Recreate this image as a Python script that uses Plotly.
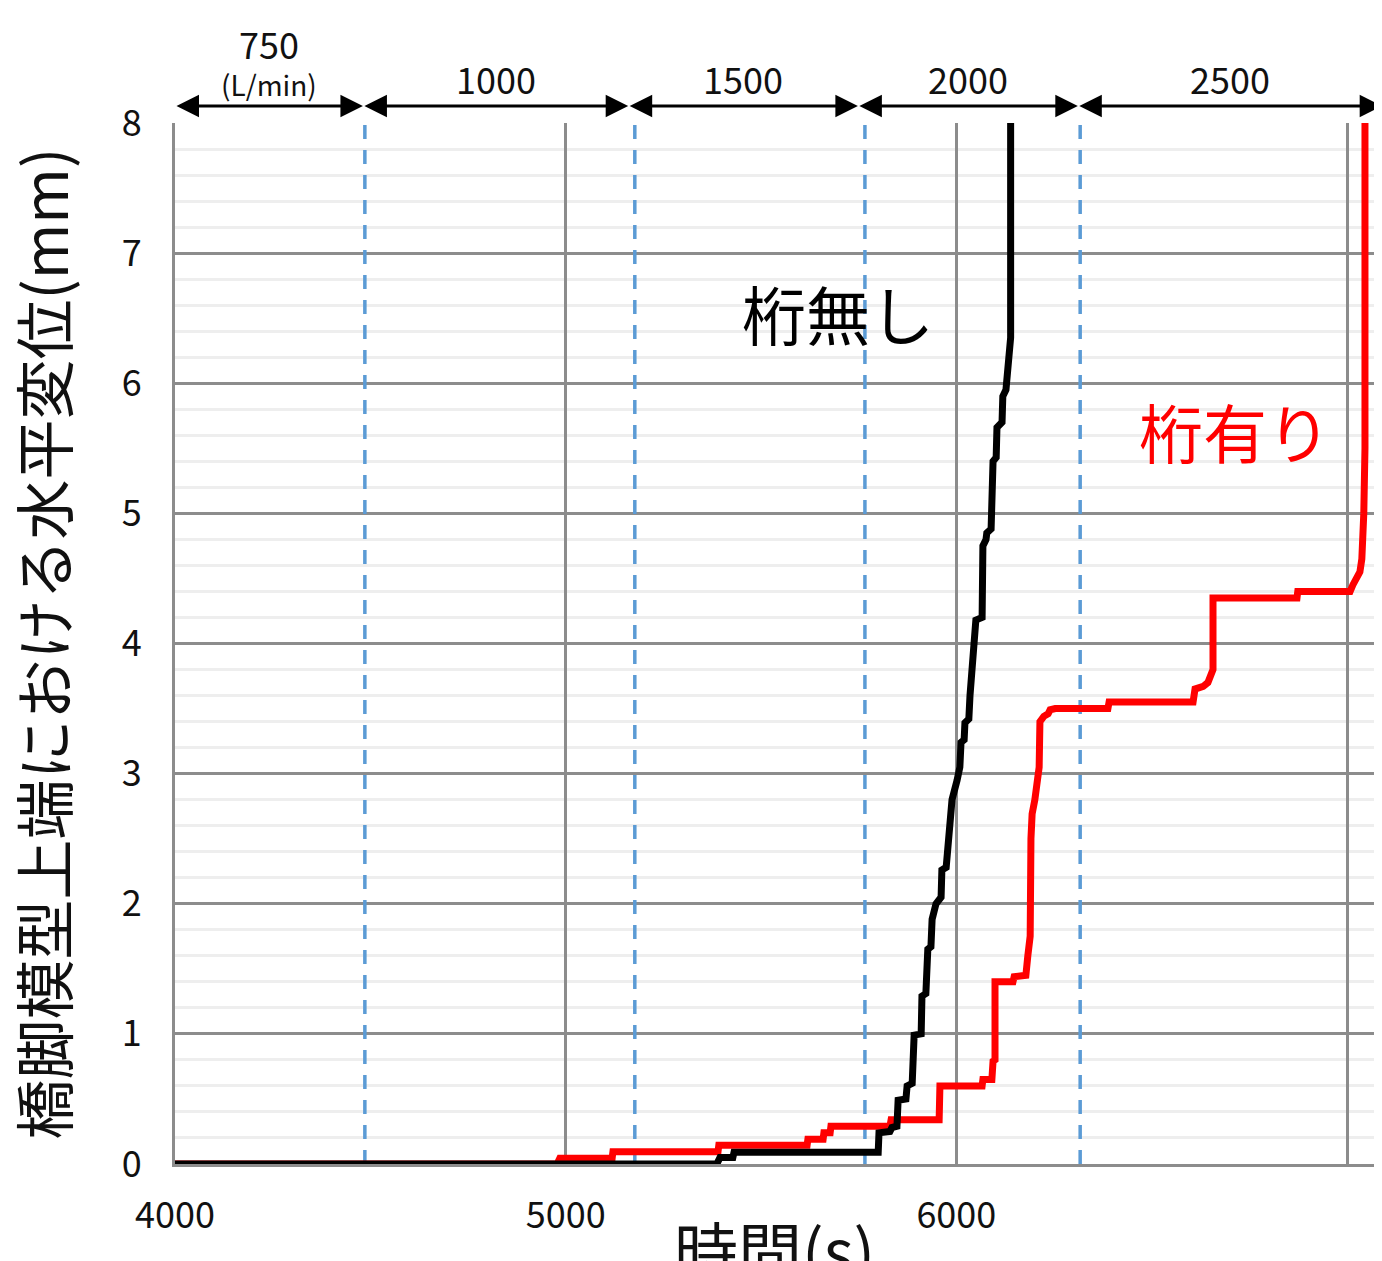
import plotly.graph_objects as go

# ---- data ----
# 桁無し (without girder)
black_t = [4000, 5387, 5395, 5428, 5431, 5800, 5802, 5830, 5835, 5848, 5851, 5871, 5874, 5887, 5892,
           5910, 5912, 5922, 5927, 5935, 5938, 5948, 5961, 5963, 5974, 5989, 6002, 6009, 6012, 6020,
           6022, 6032, 6035, 6043, 6050, 6066, 6068, 6076, 6078, 6089, 6094, 6102, 6104, 6117, 6119,
           6127, 6132, 6137, 6139, 6139]
black_d = [0, 0, 0.05, 0.05, 0.09, 0.09, 0.24, 0.25, 0.28, 0.29, 0.49, 0.5, 0.6, 0.62, 0.99,
           1.0, 1.29, 1.31, 1.65, 1.67, 1.88, 2.0, 2.05, 2.26, 2.28, 2.8, 2.95, 3.05, 3.24, 3.26,
           3.39, 3.42, 3.6, 4.0, 4.18, 4.2, 4.75, 4.8, 4.85, 4.88, 5.40, 5.43, 5.66, 5.7, 5.9,
           5.95, 6.1, 6.25, 6.35, 8.0]

# 桁有り (with girder)
red_t = [4000, 4978, 4985, 5119, 5121, 5390, 5392, 5618, 5620, 5659, 5661, 5677, 5679, 5830, 5833,
         5956, 5958, 6066, 6068, 6091, 6094, 6099, 6099, 6145, 6148, 6178, 6183, 6189, 6191, 6194,
         6201, 6206, 6212, 6214, 6224, 6235, 6240, 6253, 6388, 6391, 6606, 6611, 6632, 6644, 6654,
         6657, 6657, 6872, 6874, 7008, 7015, 7026, 7033, 7038, 7041, 7043, 7046, 7046]
red_d = [0, 0, 0.045, 0.045, 0.095, 0.095, 0.145, 0.145, 0.19, 0.19, 0.24, 0.24, 0.29, 0.29, 0.34,
         0.34, 0.6, 0.6, 0.65, 0.65, 0.79, 0.8, 1.40, 1.40, 1.44, 1.45, 1.6, 1.75, 2.5, 2.69,
         2.8, 2.95, 3.05, 3.40, 3.44, 3.46, 3.49, 3.5, 3.5, 3.55, 3.55, 3.65, 3.67, 3.70, 3.78,
         3.8, 4.35, 4.35, 4.40, 4.40, 4.45, 4.50, 4.55, 4.65, 4.8, 5.0, 5.5, 8.0]

# flow-rate change times (dashed lines) and flow-rate stages
change_t = [4486, 5177, 5766, 6317]
stage_bounds = [4000, 4481, 5160, 5748, 6311, 7090]
stage_labels = ["750", "1000", "1500", "2000", "2500"]

x_ticks = [4000, 5000, 6000, 7000]
y_ticks = [0, 1, 2, 3, 4, 5, 6, 7, 8]

X_RANGE = [4000, 7089.6]
FONT = "Noto Sans CJK JP"
GRID = "#8c8c8c"


def xdom(t):
    return (t - X_RANGE[0]) / (X_RANGE[1] - X_RANGE[0])


fig = go.Figure()
fig.add_trace(go.Scatter(x=red_t, y=red_d, mode="lines", name="桁有り",
                         line=dict(color="#ff0000", width=7)))
fig.add_trace(go.Scatter(x=black_t, y=black_d, mode="lines", name="桁無し",
                         line=dict(color="#000000", width=7)))

for t in change_t:
    fig.add_shape(type="line", xref="x", yref="y", x0=t, x1=t, y0=0, y1=8, layer="between",
                  line=dict(color="#5b9bd5", width=3.5, dash="14px,11px"))

arrow_y = 1.0163
for i, lab in enumerate(stage_labels):
    a, b = stage_bounds[i], stage_bounds[i + 1]
    fig.add_annotation(x=xdom(b), y=arrow_y, ax=xdom(a), ay=arrow_y,
                       xref="x domain", yref="y domain", axref="x domain", ayref="y domain",
                       text="", showarrow=True, arrowside="end+start",
                       arrowhead=2, startarrowhead=2, arrowsize=1.5, startarrowsize=1.5,
                       arrowwidth=3, arrowcolor="#000000", standoff=0, startstandoff=0)
    ly = 1.0765 if i == 0 else 1.0432
    fig.add_annotation(x=xdom((a + b) / 2), y=ly, xref="x domain", yref="y domain", text=lab,
                       showarrow=False, font=dict(family=FONT, size=36, color="#111111"),
                       xanchor="center", yanchor="middle")
fig.add_annotation(x=xdom((stage_bounds[0] + stage_bounds[1]) / 2), y=1.0375,
                   xref="x domain", yref="y domain", text="(L/min)", showarrow=False,
                   font=dict(family=FONT, size=28, color="#111111"),
                   xanchor="center", yanchor="middle")

fig.add_annotation(x=5697, y=6.55, xref="x", yref="y", text="桁無し", showarrow=False,
                   font=dict(family=FONT, size=64, color="#000000"))
fig.add_annotation(x=6713, y=5.64, xref="x", yref="y", text="桁有り", showarrow=False,
                   font=dict(family=FONT, size=64, color="#ff0000"))

# axis titles
fig.add_annotation(x=-0.111, y=0.5, xref="paper", yref="paper", text="橋脚模型上端における水平変位(mm)",
                   textangle=-90, showarrow=False, xanchor="center", yanchor="middle",
                   font=dict(family=FONT, size=60, color="#111111"))
fig.add_annotation(x=0.497, y=-0.081, xref="paper", yref="paper", text="時間(s)",
                   showarrow=False, xanchor="center", yanchor="middle",
                   font=dict(family=FONT, size=64, color="#111111"))

# page body has an 8px margin: shift the figure so the plot area lands where the reference has it
fig.update_layout(
    width=1374, height=1253,
    margin=dict(l=167, r=0, t=115, b=97),
    paper_bgcolor="white", plot_bgcolor="white",
    showlegend=False,
    font=dict(family=FONT, color="#111111"),
)
fig.update_xaxes(range=X_RANGE, tickvals=x_ticks, ticktext=[str(v) for v in x_ticks],
                 showgrid=True, gridcolor=GRID, gridwidth=3,
                 showline=True, linecolor=GRID, linewidth=3,
                 zeroline=False, ticks="outside", ticklen=18, tickcolor="rgba(0,0,0,0)",
                 tickfont=dict(family=FONT, size=36, color="#111111"))
fig.update_yaxes(range=[0, 8], tickvals=y_ticks,
                 showgrid=True, gridcolor=GRID, gridwidth=2.5,
                 minor=dict(dtick=0.2, showgrid=True, gridcolor="#eeeeee", gridwidth=3),
                 showline=True, linecolor=GRID, linewidth=3,
                 zeroline=False, ticks="outside", ticklen=23, tickcolor="rgba(0,0,0,0)",
                 tickfont=dict(family=FONT, size=36, color="#111111"))

fig.write_html("out.html")
